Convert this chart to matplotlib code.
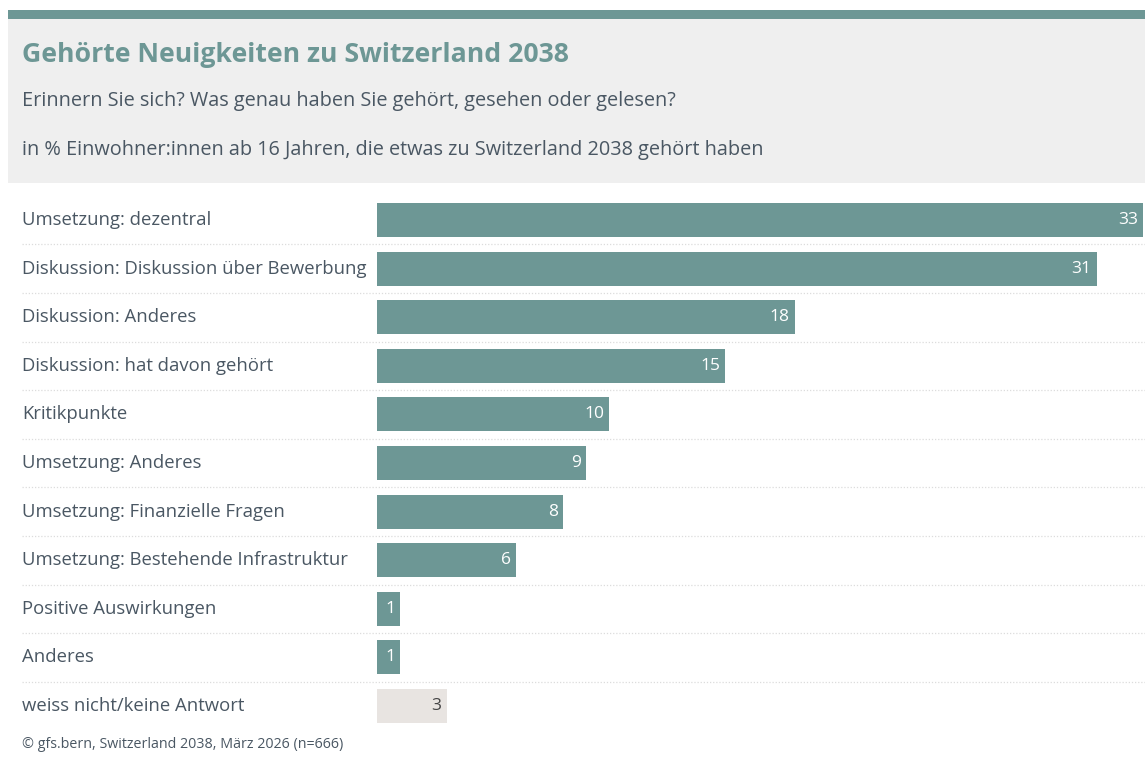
#!/usr/bin/env python3
"""Gehörte Neuigkeiten zu Switzerland 2038 - horizontal bar chart."""
import matplotlib
matplotlib.use("Agg")
import matplotlib.pyplot as plt
import matplotlib.transforms as mtransforms
from matplotlib.patches import Rectangle

categories = [
    "Umsetzung: dezentral",
    "Diskussion: Diskussion über Bewerbung",
    "Diskussion: Anderes",
    "Diskussion: hat davon gehört",
    "Kritikpunkte",
    "Umsetzung: Anderes",
    "Umsetzung: Finanzielle Fragen",
    "Umsetzung: Bestehende Infrastruktur",
    "Positive Auswirkungen",
    "Anderes",
    "weiss nicht/keine Antwort",
]
values = [33, 31, 18, 15, 10, 9, 8, 6, 1, 1, 3]
is_dontknow = [False] * 10 + [True]

TITLE = "Gehörte Neuigkeiten zu Switzerland 2038"
SUBTITLE = "Erinnern Sie sich? Was genau haben Sie gehört, gesehen oder gelesen?"
NOTE = "in % Einwohner:innen ab 16 Jahren, die etwas zu Switzerland 2038 gehört haben"
SOURCE = "© gfs.bern, Switzerland 2038, März 2026 (n=666)"

TEAL = "#6d9795"
GREY_BAR = "#e8e4e1"
HEADER_BG = "#efefef"
TEXT = "#4a5763"

plt.rcParams["font.family"] = ["Open Sans", "DejaVu Sans"]

W, H = 1145, 784
fig = plt.figure(figsize=(W / 100, H / 100), dpi=100)
fig.patch.set_facecolor("white")


def fx(px):
    return px / W


def fy(py):
    return 1 - py / H


# header block
fig.add_artist(Rectangle((fx(8), fy(183)), fx(W - 8), 164 / H, transform=fig.transFigure,
                         facecolor=HEADER_BG, edgecolor="none", zorder=0))
fig.add_artist(Rectangle((fx(8), fy(19)), fx(W - 8), 9 / H, transform=fig.transFigure,
                         facecolor=TEAL, edgecolor="none", zorder=1))

fig.text(fx(22), fy(55), TITLE, fontsize=19.2, fontweight="bold", color=TEAL, va="center", ha="left")
fig.text(fx(22), fy(101), SUBTITLE, fontsize=14.3, color=TEXT, va="center", ha="left")
fig.text(fx(22), fy(150), NOTE, fontsize=14.3, color=TEXT, va="center", ha="left")
fig.text(fx(22), fy(745), SOURCE, fontsize=10.3, color=TEXT, va="center", ha="left")

# bar area
row_h = 48.6
n = len(categories)
top = 220 - row_h / 2
bottom = top + n * row_h
left, right = 377, 1145
ax = fig.add_axes([fx(left), fy(bottom), fx(right - left), (bottom - top) / H])
ax.set_xlim(0, 33 * (right - left) / (1143 - left))
ax.set_ylim(n - 0.5, -0.5)
ax.axis("off")

ypos = list(range(n))
colors = [GREY_BAR if d else TEAL for d in is_dontknow]
ax.barh(ypos, values, height=0.70, color=colors, edgecolor="none")

for i in range(n - 1):
    ax.axhline(i + 0.5, xmin=(22 - left) / (right - left), xmax=1, color="#dcdcdc",
               linewidth=0.9, linestyle=(0, (1, 1.5)), clip_on=False)

label_tr = mtransforms.blended_transform_factory(fig.transFigure, ax.transData)
val_off = mtransforms.offset_copy(ax.transData, fig=fig, x=-5, y=0, units="dots")
for i, (cat, v, d) in enumerate(zip(categories, values, is_dontknow)):
    ax.text(fx(22), i, cat, transform=label_tr, fontsize=13.3, color=TEXT, va="center", ha="left")
    ax.text(v, i, str(v), transform=val_off, fontsize=12.5,
            color="#444444" if d else "white", va="center", ha="right")

fig.savefig("out.png", dpi=100)
